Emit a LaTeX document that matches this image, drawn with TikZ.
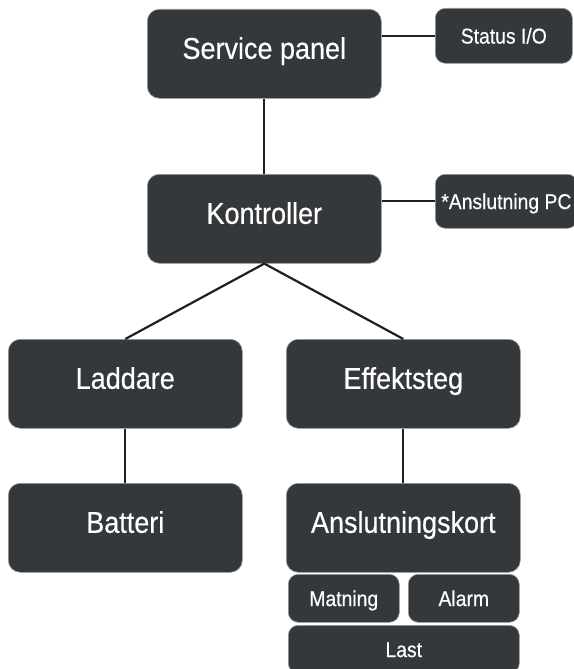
\documentclass[tikz,border=0pt]{standalone}
\usepackage{fontspec}
\setmainfont{Liberation Sans}[FakeStretch=0.9, FakeBold=0.4]
\usepackage{tikz}
\definecolor{ardoise}{RGB}{53,56,59}
\definecolor{trait}{RGB}{35,31,32}
\tikzstyle{bloc} = [rectangle, rounded corners=12pt, fill=ardoise, draw=black!40, line width=0.6pt, text=white, minimum width=234pt, minimum height=89pt, inner sep=0pt, font=\fontsize{30}{36}\selectfont, text height=22pt, text depth=12pt]
\tikzstyle{petit} = [rectangle, rounded corners=10pt, fill=ardoise, draw=black!40, line width=0.6pt, text=white, minimum height=48pt, inner sep=0pt, font=\fontsize{21.5}{26}\selectfont, text height=16pt, text depth=0.5pt]
\tikzstyle{lien} = [draw=trait, line width=2.2pt]

\begin{document}
\begin{tikzpicture}[x=1pt, y=-1pt]

        \useasboundingbox (0,0) rectangle (573,669);

        \node (service) [bloc, anchor=north west] at (147,9) {Service panel};
        \node (status) [petit, anchor=north west, minimum width=137pt, minimum height=55pt] at (435,8) {Status I/O};

        \node (kontroller) [bloc, anchor=north west] at (147,174) {Kontroller};
        \node (pc) [petit, anchor=north west, minimum height=54pt, inner xsep=6pt] at (435,174) {*Anslutning PC};

        \node (laddare) [bloc, anchor=north west] at (8,339) {Laddare};
        \node (effekt) [bloc, anchor=north west] at (286,339) {Effektsteg};

        \node (batteri) [bloc, anchor=north west] at (8,483) {Batteri};
        \node (kort) [bloc, anchor=north west] at (286,483) {Anslutningskort};

        \node (matning) [petit, anchor=north west, minimum width=111pt] at (288,574) {Matning};
        \node (alarm) [petit, anchor=north west, minimum width=111pt] at (408,574) {Alarm};
        \node (last) [petit, anchor=north west, minimum width=231pt] at (288,625) {Last};


        \draw[lien] (service.east |- status.west) -- (status.west);
        \draw[lien] (service.south) -- (kontroller.north);
        \draw[lien] (kontroller.east |- pc.west) -- (pc.west);

        \draw[lien] (kontroller.south) -- (laddare.north);
        \draw[lien] (kontroller.south) -- (effekt.north);

        \draw[lien] (laddare.south) -- (batteri.north);
        \draw[lien] (effekt.south) -- (kort.north);

    \end{tikzpicture}
\end{document}
